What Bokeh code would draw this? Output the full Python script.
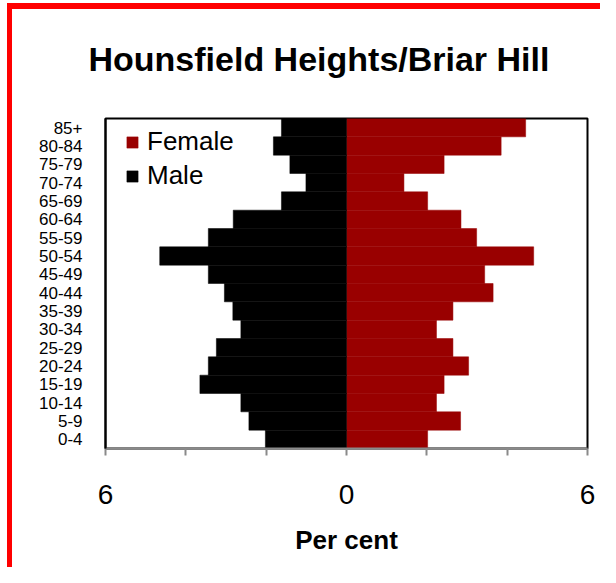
from bokeh.plotting import figure
from bokeh.models import (ColumnDataSource, FactorRange, Range1d, FixedTicker,
                          Legend, LegendItem, InlineStyleSheet)
from bokeh.embed import file_html
from bokeh.resources import INLINE

# ---- data ----
ages = ["0-4", "5-9", "10-14", "15-19", "20-24", "25-29", "30-34", "35-39",
        "40-44", "45-49", "50-54", "55-59", "60-64", "65-69", "70-74",
        "75-79", "80-84", "85+"]
female = [2.02, 2.84, 2.24, 2.43, 3.04, 2.65, 2.24, 2.65, 3.65, 3.44, 4.66,
          3.24, 2.85, 2.02, 1.43, 2.43, 3.85, 4.46]
male = [2.02, 2.43, 2.63, 3.65, 3.44, 3.24, 2.63, 2.83, 3.04, 3.44, 4.65,
        3.44, 2.82, 1.62, 1.01, 1.41, 1.82, 1.62]
x_ticks = [-6, 0, 6]
x_minor = [-4, -2, 2, 4]
x_tick_labels = {-6: "6", 0: "0", 6: "6"}
title_text = "Hounsfield Heights/Briar Hill"
x_label = "Per cent"

FEMALE_COLOR = "#990000"
MALE_COLOR = "#000000"
FONT = "Liberation Sans"

src = ColumnDataSource(dict(age=ages, female=female,
                            male_neg=[-v for v in male]))

W, H = 600, 567
p = figure(width=W, height=H, output_backend="svg", toolbar_location=None,
           y_range=FactorRange(*ages, range_padding=0), x_range=Range1d(-6, 6),
           min_border_left=105, min_border_right=13, min_border_top=118,
           min_border_bottom=119)

# red frame (top and left edges) painted on the host, behind a transparent border area
p.border_fill_color = None
p.background_fill_color = "white"
p.stylesheets = [InlineStyleSheet(css=(
    ":host { background-color: #ffffff; "
    "background-image: linear-gradient(#ff0000, #ff0000), linear-gradient(#ff0000, #ff0000); "
    "background-repeat: no-repeat; "
    "background-position: 7px 3px, 7px 3px; "
    "background-size: 100% 6px, 5px 100%; }"))]

fr = p.hbar(y="age", left=0, right="female", height=1.0, source=src,
            fill_color=FEMALE_COLOR, line_color=FEMALE_COLOR, line_width=0.5)
mr = p.hbar(y="age", left="male_neg", right=0, height=1.0, source=src,
            fill_color=MALE_COLOR, line_color=MALE_COLOR, line_width=0.5)

p.title.text = title_text
p.title.text_font = FONT
p.title.text_font_size = "34px"
p.title.text_font_style = "bold"
p.title.align = "left"
p.title.offset = -17
p.title.vertical_align = "top"
p.title.text_color = "black"
p.title.standoff = 78

p.xgrid.visible = False
p.ygrid.visible = False
p.outline_line_color = "black"
p.outline_line_width = 2

xa = p.xaxis[0]
xa.ticker = FixedTicker(ticks=x_ticks, minor_ticks=x_minor)
xa.major_label_overrides = x_tick_labels
xa.major_label_text_font = FONT
xa.major_label_text_font_size = "28px"
xa.major_label_text_color = "black"
xa.major_label_standoff = 29
xa.axis_line_color = "#8a8a8a"
xa.axis_line_width = 2
xa.major_tick_line_color = "#8a8a8a"
xa.major_tick_line_width = 2
xa.major_tick_in = 0
xa.major_tick_out = 7
xa.minor_tick_line_color = "#8a8a8a"
xa.minor_tick_line_width = 2
xa.minor_tick_in = 0
xa.minor_tick_out = 7
xa.axis_label = x_label
xa.axis_label_text_font = FONT
xa.axis_label_text_font_size = "26px"
xa.axis_label_text_font_style = "bold"
xa.axis_label_text_color = "black"
xa.axis_label_standoff = 18

ya = p.yaxis[0]
ya.major_label_text_font = FONT
ya.major_label_text_font_size = "17px"
ya.major_label_text_color = "black"
ya.major_tick_line_color = None
ya.minor_tick_line_color = None
ya.major_tick_out = 0
ya.major_tick_in = 0
ya.major_label_standoff = 23
ya.axis_line_color = "black"
ya.axis_line_width = 2

legend = Legend(items=[LegendItem(label="Female", renderers=[fr]),
                       LegendItem(label="Male", renderers=[mr])],
                location=(20, 257), margin=0, padding=0, spacing=3,
                glyph_width=14, glyph_height=14, label_standoff=8,
                label_height=29,
                label_text_font=FONT, label_text_font_size="26px",
                label_text_color="black",
                border_line_color=None, background_fill_alpha=0)
p.add_layout(legend)

open("out.html", "w").write(file_html(p, INLINE))
